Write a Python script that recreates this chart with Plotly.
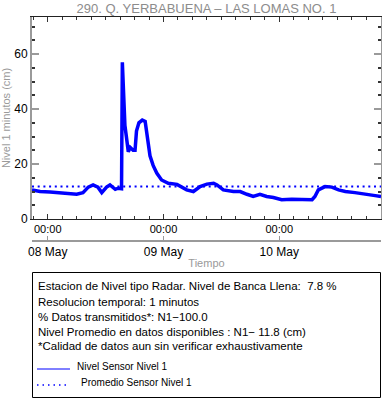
import plotly.graph_objects as go

# ---- data ----
times = [
    "2024-05-07 20:44", "2024-05-07 22:24", "2024-05-08 00:29", "2024-05-08 03:10",
    "2024-05-08 06:00", "2024-05-08 07:18", "2024-05-08 08:24", "2024-05-08 09:24",
    "2024-05-08 10:24", "2024-05-08 11:12", "2024-05-08 12:12", "2024-05-08 12:54",
    "2024-05-08 14:00", "2024-05-08 14:36", "2024-05-08 15:18", "2024-05-08 15:28",
    "2024-05-08 15:36", "2024-05-08 16:00", "2024-05-08 16:18", "2024-05-08 16:42",
    "2024-05-08 17:06", "2024-05-08 17:42", "2024-05-08 18:06", "2024-05-08 18:24",
    "2024-05-08 18:54", "2024-05-08 19:36", "2024-05-08 20:12", "2024-05-08 20:36",
    "2024-05-08 21:12", "2024-05-08 21:51", "2024-05-08 22:36", "2024-05-08 23:36",
    "2024-05-09 01:00", "2024-05-09 02:48", "2024-05-09 04:06", "2024-05-09 04:48",
    "2024-05-09 06:12", "2024-05-09 07:36", "2024-05-09 09:00", "2024-05-09 10:24",
    "2024-05-09 11:06", "2024-05-09 12:24", "2024-05-09 14:30", "2024-05-09 15:54",
    "2024-05-09 17:18", "2024-05-09 18:36", "2024-05-09 20:00", "2024-05-09 21:24",
    "2024-05-09 22:48", "2024-05-10 00:30", "2024-05-10 02:36", "2024-05-10 04:42",
    "2024-05-10 06:48", "2024-05-10 07:24", "2024-05-10 08:06", "2024-05-10 09:30",
    "2024-05-10 10:54", "2024-05-10 12:18", "2024-05-10 13:42", "2024-05-10 15:42",
    "2024-05-10 17:48", "2024-05-10 19:54", "2024-05-10 21:06",
]
nivel = [
    10.6, 10.0, 9.8, 9.4,
    9.0, 9.6, 11.6, 12.4,
    11.6, 9.6, 11.6, 12.4,
    10.8, 11.2, 11.0, 57.0,
    50.0, 34.0, 30.0, 24.5,
    26.0, 25.0, 25.0, 32.0,
    35.0, 36.0, 35.5, 29.9,
    23.0, 19.5, 16.7, 14.2,
    13.0, 12.6, 11.2, 10.6,
    10.0, 11.8, 12.7, 13.0,
    12.4, 10.6, 10.0, 10.0,
    9.0, 8.2, 9.0, 8.2,
    7.8, 7.0, 7.2, 7.0,
    7.0, 8.2, 10.6, 11.8,
    11.6, 10.6, 10.0, 9.6,
    9.2, 8.5, 8.2,
]
promedio = 11.8
y_range = [0, 73.5]
title_text = "290. Q. YERBABUENA \u2013 LAS LOMAS NO. 1"
info_lines = [
    "Estacion de Nivel tipo Radar. Nivel de Banca Llena:  7.8 %",
    "Resolucion temporal: 1 minutos",
    "% Datos transmitidos*: N1\u2212100.0",
    "Nivel Promedio en datos disponibles : N1\u2212 11.8 (cm)",
    "*Calidad de datos aun sin verificar exhaustivamente",
]
legend_names = ["Nivel Sensor Nivel 1", "Promedio Sensor Nivel 1"]

FONT = "Liberation Sans, Arial, sans-serif"
GREY = "#9a9a9a"
BLUE = "#0000ff"

# pixel -> paper helpers (plot area: x 32..381, paper y 17..241)
W, H = 382, 404
ML, MR, MT, MB = 32, 1, 17, 163
PW, PH = W - ML - MR, H - MT - MB


def px(x):
    return (x - ML) / PW


def py(y):
    return (H - MB - y) / PH


fig = go.Figure()
fig.add_trace(go.Scatter(
    x=times, y=nivel, mode="lines", name=legend_names[0],
    line=dict(color=BLUE, width=3.5), showlegend=False,
))
fig.add_trace(go.Scatter(
    x=[times[0], times[-1]], y=[promedio, promedio], mode="lines",
    name=legend_names[1], xaxis="x2", showlegend=False,
    line=dict(color=BLUE, width=2, dash="2px,3.7px"),
))

ydom0 = py(219)
fig.update_layout(
    width=W, height=H,
    margin=dict(l=ML, r=MR, t=MT, b=MB, pad=0, autoexpand=False),
    paper_bgcolor="white", plot_bgcolor="white",
    font=dict(family=FONT, color="black"),
    title=dict(text=title_text, x=0.5, xref="paper", y=1 - 8 / H, yref="container",
               xanchor="center", yanchor="middle",
               font=dict(size=13, color="#8c8c8c", family=FONT)),
    showlegend=False,
    xaxis=dict(
        type="date", range=[times[0], times[-1]], anchor="y", automargin=False,
        dtick=86400000, tick0="2024-05-08", tickformat="%H:%M",
        ticks="inside", ticklen=5, tickcolor="#333", tickwidth=1,
        minor=dict(dtick=10800000, ticks="inside", ticklen=3, tickcolor="#333"),
        showline=True, linecolor="#222", linewidth=1, mirror="ticks",
        showgrid=False, zeroline=False, tickfont=dict(size=11),
    ),
    xaxis2=dict(
        type="date", matches="x", overlaying="x", anchor="free", position=0,
        side="bottom", dtick=86400000, tick0="2024-05-08", tickformat="%d %b",
        automargin=False,
        ticks="inside", ticklen=4, tickcolor=GREY, tickwidth=1,
        showline=True, linecolor=GREY, linewidth=2, showgrid=False, zeroline=False,
        tickfont=dict(size=12),
        title=dict(text="Tiempo", font=dict(size=11, color=GREY), standoff=0),
    ),
    yaxis=dict(
        domain=[ydom0, 1], range=y_range, dtick=20, automargin=False,
        ticks="inside", ticklen=7, tickcolor=GREY, tickwidth=2,
        minor=dict(dtick=5, ticks="inside", ticklen=3, tickcolor="#333"),
        showline=True, linecolor=GREY, linewidth=2, mirror="ticks",
        showgrid=False, zeroline=False, tickfont=dict(size=12),
        title=dict(text="Nivel 1 minutos (cm)", font=dict(size=11, color=GREY), standoff=4),
    ),
)

# info box
fig.add_shape(type="rect", xref="paper", yref="paper",
              x0=px(32.5), x1=px(380.5), y0=py(397.5), y1=py(272.5),
              line=dict(color="black", width=1), fillcolor="rgba(0,0,0,0)")
line_y = [286, 301.5, 316.5, 331.5, 346]
for txt, yy in zip(info_lines, line_y):
    fig.add_annotation(text=txt, xref="paper", yref="paper", x=px(36), y=py(yy),
                       xanchor="left", yanchor="middle", showarrow=False,
                       font=dict(size=11.5, family=FONT, color="black"))

# legend entries inside the box
fig.add_shape(type="line", xref="paper", yref="paper",
              x0=px(37), x1=px(70), y0=py(369), y1=py(369),
              line=dict(color=BLUE, width=1))
fig.add_shape(type="line", xref="paper", yref="paper",
              x0=px(37), x1=px(68), y0=py(385), y1=py(385),
              line=dict(color=BLUE, width=1.5, dash="1.5px,4px"))
fig.add_annotation(text=legend_names[0], xref="paper", yref="paper", x=px(74.5), y=py(366),
                   xanchor="left", yanchor="middle", showarrow=False,
                   font=dict(size=10, family=FONT, color="black"))
fig.add_annotation(text=legend_names[1], xref="paper", yref="paper", x=px(78.5), y=py(382),
                   xanchor="left", yanchor="middle", showarrow=False,
                   font=dict(size=10, family=FONT, color="black"))

fig.write_html(
    "out.html",
    config={"displayModeBar": False},
    post_script="document.body.style.margin='0px';document.body.style.overflow='hidden';",
)
